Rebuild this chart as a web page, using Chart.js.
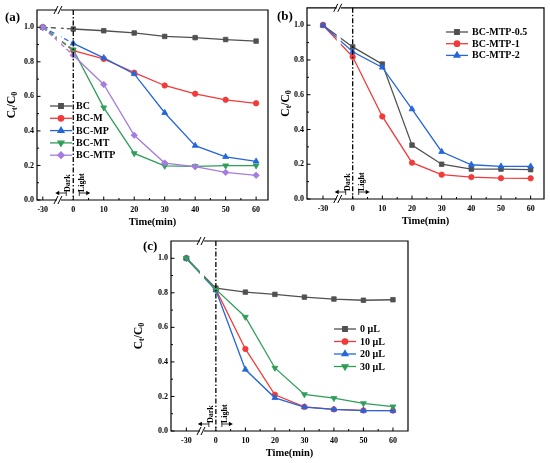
<!DOCTYPE html>
<html>
<head>
<meta charset="utf-8">
<script src="https://cdn.jsdelivr.net/npm/chart.js@4.4.1/dist/chart.umd.min.js"></script>
<style>
  body { margin: 0; background: #fff; width: 550px; height: 463px; position: relative; overflow: hidden; }
  canvas { position: absolute; }
</style>
</head>
<body>
<canvas id="chartA" width="275" height="232" style="left:0;top:0;width:275px;height:232px"></canvas>
<canvas id="chartB" width="275" height="232" style="left:275px;top:0;width:275px;height:232px"></canvas>
<canvas id="chartC" width="300" height="231" style="left:130px;top:232px;width:300px;height:231px"></canvas>
<script>
// sampling times (min); -30 sits left of the axis break
const times = [-30, 0, 10, 20, 30, 40, 50, 60];
const xTickLabels = [-30, 0, 10, 20, 30, 40, 50, 60];
const yTickLabels = [0, 0.2, 0.4, 0.6, 0.8, 1.0];

// (a) catalysts
const labelsA = ['BC', 'BC-M', 'BC-MP', 'BC-MT', 'BC-MTP'];
const valuesBC = [1.0, 0.99, 0.98, 0.967, 0.947, 0.94, 0.929, 0.92];
const valuesBCM = [1.0, 0.865, 0.817, 0.737, 0.663, 0.615, 0.58, 0.56];
const valuesBCMP = [1.0, 0.907, 0.823, 0.73, 0.505, 0.315, 0.25, 0.224];
const valuesBCMT = [1.0, 0.87, 0.535, 0.27, 0.197, 0.195, 0.199, 0.199];
const valuesBCMTP = [1.0, 0.838, 0.669, 0.375, 0.214, 0.193, 0.16, 0.143];

// (b) loading ratio
const labelsB = ['BC-MTP-0.5', 'BC-MTP-1', 'BC-MTP-2'];
const valuesMTP05 = [1.0, 0.875, 0.776, 0.31, 0.2, 0.172, 0.172, 0.169];
const valuesMTP1 = [1.0, 0.818, 0.475, 0.209, 0.14, 0.126, 0.12, 0.119];
const valuesMTP2 = [1.0, 0.847, 0.757, 0.517, 0.272, 0.197, 0.188, 0.188];

// (c) H2O2 dosage
const labelsC = ['0 μL', '10 μL', '20 μL', '30 μL'];
const values0uL = [1.0, 0.827, 0.804, 0.791, 0.775, 0.764, 0.757, 0.76];
const values10uL = [1.0, 0.82, 0.475, 0.21, 0.14, 0.125, 0.119, 0.118];
const values20uL = [1.0, 0.815, 0.356, 0.192, 0.138, 0.125, 0.118, 0.118];
const values30uL = [1.0, 0.82, 0.66, 0.365, 0.212, 0.19, 0.16, 0.141];

const FONT = "'Liberation Serif', 'Times New Roman', serif";
const GRAY = '#505050', RED = '#f23a3a', BLUE = '#2466dc', GREEN = '#2f9e5a', PURPLE = '#a57ce0';
const BREAK_AT = -4.7;

// broken axis: -30 min is drawn one decade left of 0
function posX(t) { return t < 0 ? -10 : t; }
function labelX(v) {
    const i = xTickLabels.findIndex(t => posX(t) === v);
    return i >= 0 ? String(xTickLabels[i]) : '';
}

function makeDataset(label, values, color, style, rotation, radius, dashDark) {
    return {
        label: label,
        data: times.map((t, i) => ({ x: posX(t), y: values[i] })),
        borderColor: color,
        backgroundColor: color,
        borderWidth: 1.3,
        pointStyle: style,
        pointRotation: rotation,
        pointRadius: radius,
        pointBorderWidth: 0.8,
        tension: 0,
        segment: {
            borderDash: ctx => (dashDark && ctx.p0DataIndex === 0 ? [5, 3] : undefined)
        }
    };
}

function drawArrow(ctx, x1, x2, y) {
    const dir = x2 > x1 ? 1 : -1;
    ctx.beginPath();
    ctx.moveTo(x1, y - 3); ctx.lineTo(x1, y + 3);
    ctx.moveTo(x1, y); ctx.lineTo(x2 - dir * 3, y);
    ctx.stroke();
    ctx.beginPath();
    ctx.moveTo(x2, y); ctx.lineTo(x2 - dir * 4, y - 2.2); ctx.lineTo(x2 - dir * 4, y + 2.2);
    ctx.closePath();
    ctx.fill();
}

// frame, inward ticks, break marks, dark/light marker, legend, y title
const originStyle = {
    id: 'originStyle',
    afterDatasetsDraw(chart, args, opts) {
        const { ctx, chartArea: a, scales: { x } } = chart;
        const bx = x.getPixelForValue(BREAK_AT);
        ctx.save();
        ctx.fillStyle = '#fff';
        ctx.fillRect(bx - 2, a.top, 4, a.bottom - a.top);
        // light switched on at t = 0
        const x0 = x.getPixelForValue(0);
        ctx.strokeStyle = '#000';
        ctx.lineWidth = 1.3;
        ctx.setLineDash([5, 2, 1.5, 2]);
        ctx.beginPath();
        ctx.moveTo(x0, a.top); ctx.lineTo(x0, a.bottom);
        ctx.stroke();
        ctx.restore();
    },
    afterDraw(chart, args, opts) {
        const { ctx, chartArea: a, scales: { x, y } } = chart;
        const bx = x.getPixelForValue(BREAK_AT);
        ctx.save();
        ctx.strokeStyle = '#000';
        ctx.fillStyle = '#000';
        ctx.lineWidth = 1.2;
        ctx.beginPath();
        ctx.moveTo(bx - 2, a.top); ctx.lineTo(a.left, a.top); ctx.lineTo(a.left, a.bottom); ctx.lineTo(bx - 2, a.bottom);
        ctx.moveTo(bx + 2, a.top); ctx.lineTo(a.right, a.top); ctx.lineTo(a.right, a.bottom); ctx.lineTo(bx + 2, a.bottom);
        ctx.stroke();
        ctx.lineWidth = 1;
        ctx.beginPath();
        [a.top, a.bottom].forEach(yy => {
            ctx.moveTo(bx - 5, yy + 4); ctx.lineTo(bx - 1, yy - 4);
            ctx.moveTo(bx - 1, yy + 4); ctx.lineTo(bx + 3, yy - 4);
        });
        ctx.stroke();

        // inward ticks
        ctx.beginPath();
        for (let v = 0; v <= 1.0001; v += 0.1) {
            const py = y.getPixelForValue(v);
            const len = Math.round(v * 10) % 2 === 0 ? 3.5 : 2;
            ctx.moveTo(a.left, py); ctx.lineTo(a.left + len, py);
        }
        for (let v = 0; v <= 60; v += 5) {
            const px = x.getPixelForValue(v);
            ctx.moveTo(px, a.bottom); ctx.lineTo(px, a.bottom - (v % 10 === 0 ? 3.5 : 2));
        }
        const pm = x.getPixelForValue(-10);
        ctx.moveTo(pm, a.bottom); ctx.lineTo(pm, a.bottom - 3.5);
        ctx.stroke();

        // dark / light arrows
        const x0 = x.getPixelForValue(0);
        const ay = a.bottom - 7;
        ctx.lineWidth = 0.8;
        drawArrow(ctx, x0 - 7, x0 - 18, ay);
        drawArrow(ctx, x0 + 6, x0 + 17, ay);
        ctx.font = 'bold 8px ' + FONT;
        ctx.textAlign = 'left';
        ctx.textBaseline = 'middle';
        [['Dark', x0 - 5], ['Light', x0 + 9]].forEach(([txt, tx]) => {
            ctx.save();
            ctx.translate(tx, a.bottom - 8);
            ctx.rotate(-Math.PI / 2);
            ctx.fillText(txt, 0, 0);
            ctx.restore();
        });

        // legend
        ctx.font = 'bold 10px ' + FONT;
        ctx.textBaseline = 'middle';
        chart.data.datasets.forEach((ds, i) => {
            const ly = opts.legendY + i * opts.legendGap;
            ctx.strokeStyle = ds.borderColor;
            ctx.fillStyle = ds.backgroundColor;
            ctx.lineWidth = 1.3;
            ctx.beginPath();
            ctx.moveTo(opts.legendX, ly); ctx.lineTo(opts.legendX + 22, ly);
            ctx.stroke();
            Chart.helpers.drawPoint(ctx, {
                pointStyle: ds.pointStyle, rotation: ds.pointRotation,
                radius: ds.pointRadius, borderWidth: 0.8
            }, opts.legendX + 11, ly);
            ctx.fillStyle = '#000';
            ctx.fillText(ds.label, opts.legendX + 26, ly + 0.5);
        });

        // y title C_t / C_0
        const big = 'bold 11.5px ' + FONT, small = 'bold 8px ' + FONT;
        const parts = [['C', big, 0], ['t', small, 2.8], ['/C', big, 0], ['0', small, 2.8]];
        let total = 0;
        parts.forEach(p => { ctx.font = p[1]; total += ctx.measureText(p[0]).width; });
        ctx.translate(opts.titleX, (a.top + a.bottom) / 2);
        ctx.rotate(-Math.PI / 2);
        ctx.fillStyle = '#000';
        ctx.textAlign = 'left';
        ctx.textBaseline = 'middle';
        let cx = -total / 2;
        parts.forEach(p => {
            ctx.font = p[1];
            ctx.fillText(p[0], cx, p[2]);
            cx += ctx.measureText(p[0]).width;
        });
        ctx.restore();

        // panel letter
        ctx.save();
        ctx.font = 'bold 13px ' + FONT;
        ctx.fillStyle = '#000';
        ctx.textBaseline = 'alphabetic';
        ctx.fillText(opts.panel, opts.panelX, opts.panelY);
        ctx.restore();
    }
};

function buildPanel(id, datasets, p) {
    datasets.forEach((ds, i) => { ds.order = -i; });
    return new Chart(document.getElementById(id), {
        type: 'line',
        data: { datasets: datasets },
        options: {
            responsive: false,
            animation: false,
            events: [],
            layout: { padding: { left: 0, right: p.padRight, top: p.padTop, bottom: 0 } },
            scales: {
                x: {
                    type: 'linear',
                    min: p.xMin,
                    max: p.xMax,
                    afterBuildTicks: s => { s.ticks = xTickLabels.map(t => ({ value: posX(t) })); },
                    afterFit: s => { s.height = p.xHeight; },
                    grid: { display: false, drawTicks: false },
                    border: { display: false },
                    ticks: {
                        callback: v => labelX(v),
                        color: '#000', padding: 5, maxRotation: 0, autoSkip: false,
                        font: { family: FONT, size: 8, weight: 'bold' }
                    },
                    title: {
                        display: true, text: 'Time(min)', color: '#000',
                        padding: { top: 0, bottom: p.titlePad },
                        font: { family: FONT, size: 10.5, weight: 'bold' }
                    }
                },
                y: {
                    min: 0,
                    max: 1.1,
                    afterBuildTicks: s => { s.ticks = yTickLabels.map(v => ({ value: v })); },
                    afterFit: s => { s.width = p.yWidth; },
                    grid: { display: false, drawTicks: false },
                    border: { display: false },
                    ticks: {
                        callback: v => v.toFixed(1),
                        color: '#000', padding: 3,
                        font: { family: FONT, size: 8, weight: 'bold' }
                    }
                }
            },
            plugins: {
                legend: { display: false },
                tooltip: { enabled: false },
                originStyle: p.style
            }
        },
        plugins: [originStyle]
    });
}

buildPanel('chartA', [
    makeDataset(labelsA[0], valuesBC, GRAY, 'rect', 0, 3.2, true),
    makeDataset(labelsA[1], valuesBCM, RED, 'circle', 0, 2.7, true),
    makeDataset(labelsA[2], valuesBCMP, BLUE, 'triangle', 0, 3.4, true),
    makeDataset(labelsA[3], valuesBCMT, GREEN, 'triangle', 180, 3.4, true),
    makeDataset(labelsA[4], valuesBCMTP, PURPLE, 'rectRot', 0, 3.2, true)
], {
    xMin: -11.9, xMax: 63.9, padRight: 7, padTop: 10, yWidth: 37, xHeight: 32, titlePad: 3.5,
    style: { legendX: 50, legendY: 106, legendGap: 12.3, titleX: 12, panel: '(a)', panelX: 5, panelY: 21 }
});

buildPanel('chartB', [
    makeDataset(labelsB[0], valuesMTP05, GRAY, 'rect', 0, 3.2, false),
    makeDataset(labelsB[1], valuesMTP1, RED, 'circle', 0, 2.7, false),
    makeDataset(labelsB[2], valuesMTP2, BLUE, 'triangle', 0, 3.4, false)
], {
    xMin: -15.4, xMax: 64.5, padRight: 6, padTop: 7, yWidth: 32, xHeight: 33, titlePad: 4.5,
    style: { legendX: 171, legendY: 32, legendGap: 11.7, titleX: 11, panel: '(b)', panelX: 2, panelY: 20 }
});

buildPanel('chartC', [
    makeDataset(labelsC[0], values0uL, GRAY, 'rect', 0, 3.2, false),
    makeDataset(labelsC[1], values10uL, RED, 'circle', 0, 2.7, false),
    makeDataset(labelsC[2], values20uL, BLUE, 'triangle', 0, 3.4, false),
    makeDataset(labelsC[3], values30uL, GREEN, 'triangle', 180, 3.4, false)
], {
    xMin: -15.2, xMax: 65.1, padRight: 22, padTop: 9, yWidth: 41, xHeight: 32, titlePad: 3,
    style: { legendX: 204, legendY: 97, legendGap: 12.5, titleX: 9, panel: '(c)', panelX: 13, panelY: 18 }
});
</script>
</body>
</html>
